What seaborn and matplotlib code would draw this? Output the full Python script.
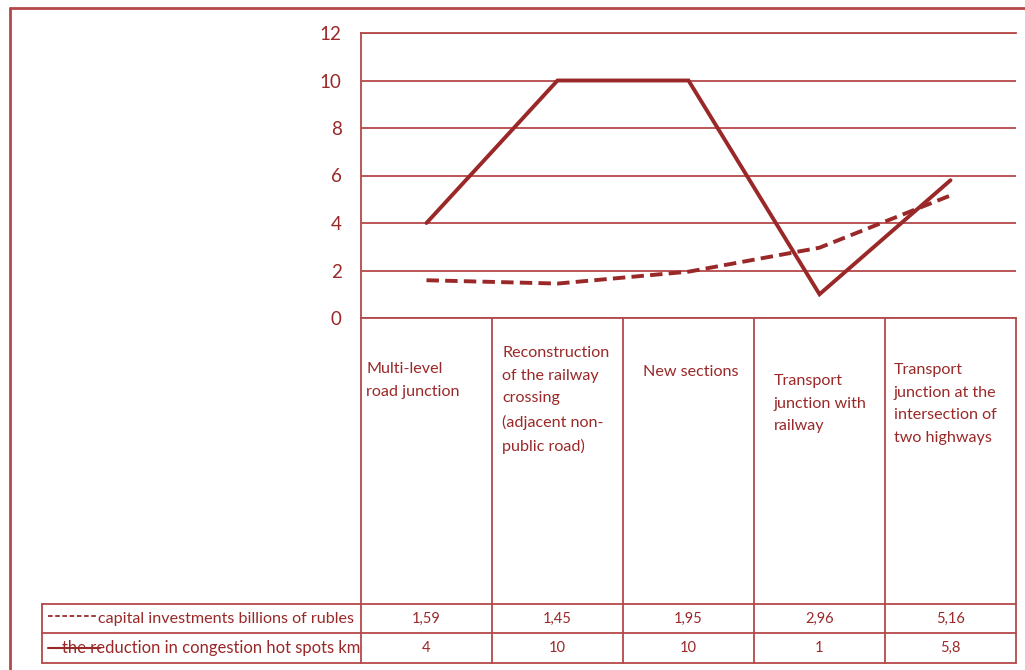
import numpy as np
import pandas as pd
import seaborn as sns
import matplotlib.pyplot as plt
from matplotlib.lines import Line2D
from matplotlib.transforms import blended_transform_factory

# data
categories = [
    "Multi-level\nroad junction",
    "Reconstruction\nof the railway\ncrossing\n(adjacent non-\npublic road)",
    "New sections",
    "Transport\njunction with\nrailway",
    "Transport\njunction at the\nintersection of\ntwo highways",
]
investments = [1.59, 1.45, 1.95, 2.96, 5.16]
reduction = [4, 10, 10, 1, 5.8]
investments_labels = ["1,59", "1,45", "1,95", "2,96", "5,16"]
reduction_labels = ["4", "10", "10", "1", "5,8"]
series_names = ["capital investments billions of rubles",
                "the reduction in congestion hot spots km"]
y_ticks = [0, 2, 4, 6, 8, 10, 12]

RED = "#9a2828"
GRID = "#b4484a"

sns.set_theme(style="white")
plt.rcParams["font.family"] = ["Lato", "DejaVu Sans"]

W, H = 1025, 670
fig = plt.figure(figsize=(W / 100, H / 100), dpi=100)


def fx(px):
    return px / W


def fy(py):
    return 1 - py / H


ax = fig.add_axes([fx(361), fy(318), fx(1016) - fx(361), fy(33) - fy(318)])

df = pd.DataFrame({"pos": np.arange(len(categories)),
                   "investments": investments,
                   "reduction": reduction})

sns.lineplot(data=df, x="pos", y="reduction", ax=ax, color=RED, lw=2.8,
             solid_joinstyle="miter", zorder=3)
sns.lineplot(data=df, x="pos", y="investments", ax=ax, color=RED, lw=2.8,
             linestyle="--", zorder=3)
ax.lines[-1].set_dashes((3.2, 1.6))

ax.set_xlim(-0.5, len(categories) - 0.5)
ax.set_ylim(0, 12)
ax.set_yticks(y_ticks)
ax.set_xticks([])
ax.set_xlabel("")
ax.set_ylabel("")
ax.yaxis.grid(True, color=GRID, lw=1.3)
ax.set_axisbelow(True)
ax.tick_params(axis="y", length=0, pad=14, labelsize=13.5, labelcolor=RED)
for side in ["left", "bottom", "top"]:
    ax.spines[side].set_color(GRID)
    ax.spines[side].set_linewidth(1.3)
ax.spines["right"].set_visible(False)

# category / data table below the plot
trans = blended_transform_factory(ax.transData, fig.transFigure)
for i in range(len(categories) + 1):
    fig.add_artist(Line2D([i - 0.5, i - 0.5], [fy(318), fy(663)],
                          transform=trans, color=GRID, lw=1.3))
for py in [604, 633, 663]:
    fig.add_artist(Line2D([fx(42), fx(1016)], [fy(py), fy(py)],
                          color=GRID, lw=1.3))
fig.add_artist(Line2D([fx(42), fx(42)], [fy(604), fy(663)], color=GRID, lw=1.3))

# outer frame
fig.add_artist(Line2D([fx(10), fx(10)], [fy(8), fy(670)], color=GRID, lw=2))
fig.add_artist(Line2D([fx(10), fx(1025)], [fy(8), fy(8)], color=GRID, lw=2))

col_w = 131
label_offsets = [5, 10, 20, 20, 9]
label_tops = [362, 346, 365, 374, 363]
for i, (cat, off, top) in enumerate(zip(categories, label_offsets, label_tops)):
    fig.text(i - 0.5 + off / col_w, fy(top), cat, transform=trans,
             ha="left", va="top", fontsize=11.6, color=RED, linespacing=1.78)

for i, (a, b) in enumerate(zip(investments_labels, reduction_labels)):
    fig.text(i, fy(619), a, transform=trans, ha="center", va="center",
             fontsize=10.5, color=RED)
    fig.text(i, fy(648), b, transform=trans, ha="center", va="center",
             fontsize=10.5, color=RED)

# legend cells
fig.add_artist(Line2D([fx(48), fx(97)], [fy(616), fy(616)], color=RED, lw=1.3,
                      dashes=(2.5, 1.5)))
fig.text(fx(98), fy(619), series_names[0], ha="left", va="center",
         fontsize=11.6, color=RED)
fig.text(fx(62), fy(648), series_names[1], ha="left", va="center",
         fontsize=12, color=RED)
fig.add_artist(Line2D([fx(48), fx(100)], [fy(648), fy(648)], color=RED, lw=1.5,
                      zorder=5))

fig.savefig("out.png", dpi=100, facecolor="white")
